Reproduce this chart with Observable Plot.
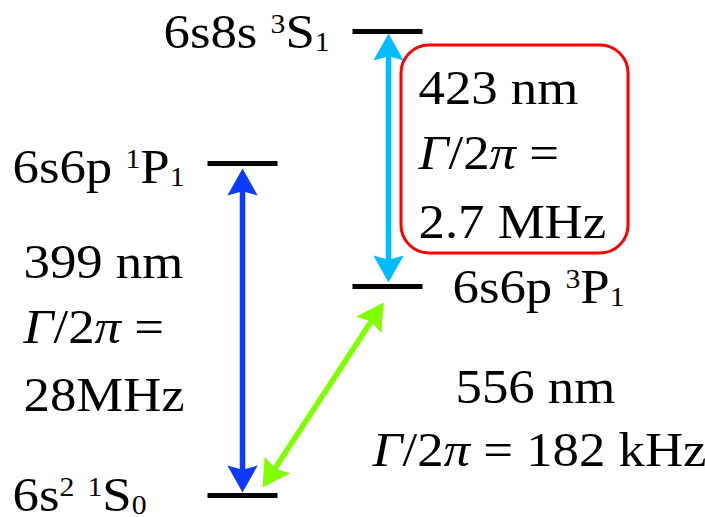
<!DOCTYPE html>
<html>
<head>
<meta charset="utf-8">
<script src="https://cdn.jsdelivr.net/npm/d3@7"></script>
<script src="https://cdn.jsdelivr.net/npm/@observablehq/plot@0.6"></script>
<style>
  html, body { margin: 0; padding: 0; background: #fff; }
</style>
</head>
<body>
<div id="chart"></div>
<script>
// ---- Data ----
// Energy levels (schematic positions)
const levelNames = ["6s^{2} ^{1}S_{0}", "6s6p ^{1}P_{1}", "6s6p ^{3}P_{1}", "6s8s ^{3}S_{1}"];
const levelX1 = [207, 207, 352, 352];
const levelX2 = [277, 277, 422, 422];
const levelY  = [495, 163, 286, 31];
const levelLabelX = [12, 12, 452, 163];
const levelLabelY = [510, 182, 302, 47];

// Transitions (double-headed arrows between levels)
const transNames  = ["399 nm", "556 nm", "423 nm"];
const transWidths = ["28MHz", "182 kHz", "2.7 MHz"];
const transColors = ["#0d3bff", "#80ff00", "#00bcff"];
const transXa = [242, 262, 388];
const transYa = [492, 487, 282];
const transXb = [242, 383, 388];
const transYb = [168, 302, 33];

// Annotation texts
const noteTexts = ["399 nm", "*Γ*/2*π* =", "28MHz",
                   "423 nm", "*Γ*/2*π* =", "2.7 MHz",
                   "556 nm", "*Γ*/2*π* = 182 kHz"];
const noteX = [23, 23, 23, 418, 418, 418, 455, 372];
const noteY = [277, 342, 410, 103, 168, 237, 402, 465];

// Highlight box around the 423 nm annotation
const boxX1 = [401], boxX2 = [628], boxY1 = [45], boxY2 = [253];

// ---- Derived tables ----
const levels = levelNames.map((n, i) => ({name: n, x1: levelX1[i], x2: levelX2[i], y: levelY[i], lx: levelLabelX[i], ly: levelLabelY[i]}));
const headLen = 27;
const shafts = [], heads = [];
transNames.forEach((n, i) => {
  const ax = transXa[i], ay = transYa[i], bx = transXb[i], by = transYb[i];
  const dx = bx - ax, dy = by - ay, len = Math.hypot(dx, dy);
  const ux = dx / len, uy = dy / len, s = headLen * 0.75;
  shafts.push({x1: ax + ux * s, y1: ay + uy * s, x2: bx - ux * s, y2: by - uy * s, c: transColors[i]});
  heads.push({x: bx, y: by, a: Math.atan2(ux, -uy) * 180 / Math.PI, c: transColors[i]});
  heads.push({x: ax, y: ay, a: Math.atan2(-ux, uy) * 180 / Math.PI, c: transColors[i]});
});
const notes = noteTexts.map((t, i) => ({t, x: noteX[i], y: noteY[i]}));
const box = boxX1.map((d, i) => ({x1: boxX1[i], x2: boxX2[i], y1: boxY1[i], y2: boxY2[i]}));

// Arrowhead symbol (tip at origin, pointing up)
const stealth = {
  draw(ctx, size) {
    const L = Math.sqrt(size / Math.PI);
    const w = L * 0.56;
    ctx.moveTo(0, 0);
    ctx.lineTo(w, L);
    ctx.lineTo(0, L * 0.84);
    ctx.lineTo(-w, L);
    ctx.closePath();
  }
};

const font = "Liberation Serif, Times New Roman, serif";
const plot = Plot.plot({
  width: 705,
  height: 517,
  margin: 0,
  x: {domain: [0, 705], range: [0, 705], axis: null},
  y: {domain: [0, 517], range: [0, 517], axis: null},
  style: {background: "#fff", fontFamily: font},
  marks: [
    Plot.link(levels, {x1: "x1", x2: "x2", y1: "y", y2: "y", stroke: "#000", strokeWidth: 5}),
    Plot.link(shafts, {x1: "x1", y1: "y1", x2: "x2", y2: "y2", stroke: "c", strokeWidth: 5.5}),
    Plot.dot(heads, {x: "x", y: "y", r: headLen, symbol: stealth, fill: "c", stroke: "none", rotate: "a"}),
    Plot.rect(box, {x1: "x1", x2: "x2", y1: "y1", y2: "y2", rx: 28, fill: "none", stroke: "#f00", strokeWidth: 3}),
    Plot.text(levels, {x: "lx", y: "ly", text: "name", textAnchor: "start", lineAnchor: "bottom", fontSize: 48, fill: "#000", fontFamily: font}),
    Plot.text(notes, {x: "x", y: "y", text: "t", textAnchor: "start", lineAnchor: "bottom", fontSize: 48, fill: "#000", fontFamily: font})
  ]
});

// Rich text: superscripts, subscripts, italics; slight horizontal stretch of the glyphs
d3.select(plot).selectAll("text").each(function () {
  const el = this;
  const src = el.textContent;
  const re = /\^\{([^}]*)\}|_\{([^}]*)\}|\*([^*]*)\*|([^\^_*]+)/g;
  const segs = [];
  let m;
  while ((m = re.exec(src))) {
    if (m[1] !== undefined) segs.push({t: m[1], shift: -15, size: 27});
    else if (m[2] !== undefined) segs.push({t: m[2], shift: 3, size: 27});
    else if (m[3] !== undefined) segs.push({t: m[3], shift: 0, italic: true});
    else segs.push({t: m[4], shift: 0});
  }
  while (el.firstChild) el.removeChild(el.firstChild);
  el.setAttribute("xml:space", "preserve");
  el.style.whiteSpace = "pre";
  let cur = 0;
  segs.forEach(s => {
    const ts = document.createElementNS("http://www.w3.org/2000/svg", "tspan");
    ts.textContent = s.t;
    if (s.shift !== cur) { ts.setAttribute("dy", s.shift - cur); cur = s.shift; }
    if (s.size) ts.setAttribute("font-size", s.size);
    if (s.italic) ts.setAttribute("font-style", "italic");
    el.appendChild(ts);
  });
  const tr = el.getAttribute("transform") || "";
  el.setAttribute("transform", tr + " scale(1.1,1)");
});

document.getElementById("chart").appendChild(plot);
</script>
</body>
</html>
